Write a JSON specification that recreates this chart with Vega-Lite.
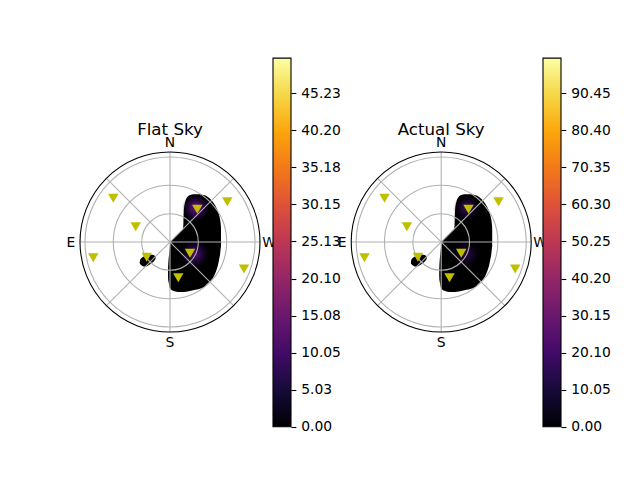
{
  "$schema": "https://vega.github.io/schema/vega-lite/v6.json",
  "padding": 0,
  "spacing": 2,
  "bounds": "flush",
  "background": "white",
  "config": {"view": {"stroke": null}, "font": "DejaVu Sans"},
  "datasets": {
    "blob": [
      {"part": "main", "y": 47.8, "x": 23, "x2": 30},
      {"part": "main", "y": 46.8, "x": 19.5, "x2": 34.5},
      {"part": "main", "y": 44.5, "x": 17, "x2": 38.5},
      {"part": "main", "y": 40.5, "x": 15.3, "x2": 42.5},
      {"part": "main", "y": 36, "x": 14.3, "x2": 45.5},
      {"part": "main", "y": 31, "x": 13.8, "x2": 47.8},
      {"part": "main", "y": 25, "x": 13.5, "x2": 49.6},
      {"part": "main", "y": 19, "x": 13.4, "x2": 50.6},
      {"part": "main", "y": 13, "x": 13, "x2": 51},
      {"part": "main", "y": 9, "x": 9, "x2": 51},
      {"part": "main", "y": 5, "x": 5, "x2": 51},
      {"part": "main", "y": 2, "x": 2, "x2": 51},
      {"part": "main", "y": 0, "x": 0.5, "x2": 51},
      {"part": "main", "y": -4, "x": 0, "x2": 51},
      {"part": "main", "y": -8, "x": -0.5, "x2": 50.5},
      {"part": "main", "y": -13, "x": -1, "x2": 50},
      {"part": "main", "y": -18, "x": -1.5, "x2": 49},
      {"part": "main", "y": -23, "x": -1.8, "x2": 48},
      {"part": "main", "y": -28, "x": -2, "x2": 46.5},
      {"part": "main", "y": -33, "x": -2, "x2": 44.5},
      {"part": "main", "y": -38, "x": -1.8, "x2": 41.5},
      {"part": "main", "y": -42, "x": -1, "x2": 37},
      {"part": "main", "y": -45, "x": -0.5, "x2": 34},
      {"part": "main", "y": -47, "x": 0.5, "x2": 29},
      {"part": "main", "y": -48.7, "x": 3, "x2": 21},
      {"part": "main", "y": -50, "x": 8, "x2": 14},
      {"part": "small", "y": -12.8, "x": -21, "x2": -17.5},
      {"part": "small", "y": -14, "x": -25, "x2": -15},
      {"part": "small", "y": -16, "x": -28.5, "x2": -14.3},
      {"part": "small", "y": -18.5, "x": -30, "x2": -15.5},
      {"part": "small", "y": -21, "x": -30.3, "x2": -18},
      {"part": "small", "y": -23, "x": -29, "x2": -21},
      {"part": "small", "y": -24.6, "x": -26.5, "x2": -23.5}
    ],
    "glowTop": [{"x": 26, "y": 34}],
    "glowLow": [{"x": 25, "y": -12}],
    "rings": [
      {"x": 0, "y": 0, "r": 28.3},
      {"x": 0, "y": 0, "r": 56.7},
      {"x": 0, "y": 0, "r": 85}
    ],
    "edge": [{"x": 0, "y": 0, "r": 90}],
    "spokes": [
      {"x": -90, "y": 0, "x2": 90, "y2": 0},
      {"x": 0, "y": -90, "x2": 0, "y2": 90},
      {"x": -63.64, "y": -63.64, "x2": 63.64, "y2": 63.64},
      {"x": -63.64, "y": 63.64, "x2": 63.64, "y2": -63.64}
    ],
    "sats": [
      {"x": -56.7, "y": 43.7},
      {"x": -34.3, "y": 15.3},
      {"x": -76.7, "y": -15.7},
      {"x": -23.3, "y": -15.3},
      {"x": 27.3, "y": 32.7},
      {"x": 57.3, "y": 40.3},
      {"x": 20, "y": -11.3},
      {"x": 8.3, "y": -35.7},
      {"x": 74, "y": -27}
    ],
    "compass": [
      {"x": 0, "y": 95, "t": "N"},
      {"x": 0, "y": -104.7, "t": "S"},
      {"x": -99, "y": -5.3, "t": "E"},
      {"x": 99, "y": -5.3, "t": "W"}
    ]
  },
  "hconcat": [
    {
      "width": 270.5,
      "height": 480,
      "encoding": {
        "x": {"field": "x", "type": "quantitative", "scale": {"domain": [-170, 100.5], "nice": false, "zero": false}, "axis": null},
        "y": {"field": "y", "type": "quantitative", "scale": {"domain": [-238, 242], "nice": false, "zero": false}, "axis": null}
      },
      "layer": [
        {
          "data": {"name": "blob"},
          "mark": {"type": "area", "orient": "horizontal", "interpolate": "monotone", "color": "black", "opacity": 1},
          "encoding": {"x2": {"field": "x2"}, "detail": {"field": "part"}}
        },
        {
          "data": {"name": "glowTop"},
          "mark": {"type": "point", "shape": "circle", "filled": true, "opacity": 1, "size": 784, "strokeWidth": 0,
            "fill": {"gradient": "radial", "x1": 0.5, "y1": 0.5, "r1": 0, "x2": 0.5, "y2": 0.5, "r2": 0.5,
              "stops": [{"offset": 0, "color": "rgba(112,26,112,1)"}, {"offset": 0.35, "color": "rgba(76,12,106,0.9)"}, {"offset": 0.7, "color": "rgba(40,10,76,0.5)"}, {"offset": 1, "color": "rgba(0,0,4,0)"}]}}
        },
        {
          "data": {"name": "glowLow"},
          "mark": {"type": "point", "shape": "circle", "filled": true, "opacity": 1, "size": 1000, "strokeWidth": 0,
            "fill": {"gradient": "radial", "x1": 0.5, "y1": 0.5, "r1": 0, "x2": 0.5, "y2": 0.5, "r2": 0.5,
              "stops": [{"offset": 0, "color": "rgba(82,14,108,0.95)"}, {"offset": 0.4, "color": "rgba(54,10,92,0.7)"}, {"offset": 0.75, "color": "rgba(24,7,50,0.3)"}, {"offset": 1, "color": "rgba(0,0,4,0)"}]}}
        },
        {
          "data": {"name": "rings"},
          "mark": {"type": "point", "shape": "circle", "filled": false, "opacity": 1, "color": "#b0b0b0", "strokeWidth": 1.1},
          "encoding": {"size": {"field": "r", "type": "quantitative", "scale": {"type": "pow", "exponent": 2, "domain": [0, 100], "range": [0, 40000]}, "legend": null}}
        },
        {
          "data": {"name": "spokes"},
          "mark": {"type": "rule", "color": "#b0b0b0", "strokeWidth": 1.1},
          "encoding": {"x2": {"field": "x2"}, "y2": {"field": "y2"}}
        },
        {
          "data": {"name": "edge"},
          "mark": {"type": "point", "shape": "circle", "filled": false, "opacity": 1, "color": "black", "strokeWidth": 1.1},
          "encoding": {"size": {"field": "r", "type": "quantitative", "scale": {"type": "pow", "exponent": 2, "domain": [0, 100], "range": [0, 40000]}, "legend": null}}
        },
        {
          "data": {"name": "sats"},
          "mark": {"type": "point", "shape": "triangle-down", "filled": true, "opacity": 1, "color": "#bfbf00", "size": 110}
        },
        {
          "data": {"name": "compass"},
          "mark": {"type": "text", "fontSize": 13.89, "align": "center", "baseline": "alphabetic", "color": "black"},
          "encoding": {"text": {"field": "t"}}
        },
        {
          "data": {"values": [{"x": 0, "y": 107, "t": "Flat Sky"}]},
          "mark": {"type": "text", "fontSize": 16.67, "align": "center", "baseline": "alphabetic", "color": "black"},
          "encoding": {"text": {"field": "t"}}
        }
      ]
    },
    {
      "width": 18,
      "height": 480,
      "data": {"values": [{"lo": 0, "hi": 50}]},
      "mark": {"type": "rect", "stroke": "black", "strokeWidth": 1.1,
        "fill": {"gradient": "linear", "x1": 0, "y1": 1, "x2": 0, "y2": 0,
          "stops": [
            {"offset": 0, "color": "#000004"}, {"offset": 0.1, "color": "#160b39"}, {"offset": 0.2, "color": "#420a68"},
            {"offset": 0.3, "color": "#6a176e"}, {"offset": 0.4, "color": "#932667"}, {"offset": 0.5, "color": "#bc3754"},
            {"offset": 0.6, "color": "#dd513a"}, {"offset": 0.7, "color": "#f37819"}, {"offset": 0.8, "color": "#fca50a"},
            {"offset": 0.9, "color": "#f6d746"}, {"offset": 1, "color": "#fcffa4"}]}},
      "encoding": {
        "x": {"datum": 0, "type": "quantitative", "scale": {"domain": [0, 1], "nice": false, "zero": false}, "axis": null},
        "x2": {"datum": 1},
        "y": {"field": "lo", "type": "quantitative", "scale": {"domain": [-7.231, 57.889], "nice": false, "zero": false},
          "axis": {"orient": "right", "values": [0, 5.0256, 10.0512, 15.0768, 20.1024, 25.128, 30.1536, 35.1792, 40.2048, 45.2304],
            "format": ".2f", "domain": false, "grid": false, "tickSize": 4.86, "tickWidth": 1.1, "tickColor": "black",
            "labelFontSize": 13.89, "labelColor": "black", "labelPadding": 4.86, "title": null,
            "labelOverlap": false, "labelFlush": false, "labelBound": false}},
        "y2": {"field": "hi"}
      }
    },
    {
      "width": 248,
      "height": 480,
      "encoding": {
        "x": {"field": "x", "type": "quantitative", "scale": {"domain": [-148.2, 99.8], "nice": false, "zero": false}, "axis": null},
        "y": {"field": "y", "type": "quantitative", "scale": {"domain": [-238, 242], "nice": false, "zero": false}, "axis": null}
      },
      "layer": [
        {
          "data": {"name": "blob"},
          "mark": {"type": "area", "orient": "horizontal", "interpolate": "monotone", "color": "black", "opacity": 1},
          "encoding": {"x2": {"field": "x2"}, "detail": {"field": "part"}}
        },
        {
          "data": {"name": "glowTop"},
          "mark": {"type": "point", "shape": "circle", "filled": true, "opacity": 1, "size": 784, "strokeWidth": 0,
            "fill": {"gradient": "radial", "x1": 0.5, "y1": 0.5, "r1": 0, "x2": 0.5, "y2": 0.5, "r2": 0.5,
              "stops": [{"offset": 0, "color": "rgba(64,12,100,1)"}, {"offset": 0.4, "color": "rgba(40,9,76,0.75)"}, {"offset": 1, "color": "rgba(0,0,4,0)"}]}}
        },
        {
          "data": {"name": "glowLow"},
          "mark": {"type": "point", "shape": "circle", "filled": true, "opacity": 1, "size": 1000, "strokeWidth": 0,
            "fill": {"gradient": "radial", "x1": 0.5, "y1": 0.5, "r1": 0, "x2": 0.5, "y2": 0.5, "r2": 0.5,
              "stops": [{"offset": 0, "color": "rgba(48,10,86,0.9)"}, {"offset": 0.45, "color": "rgba(28,8,58,0.55)"}, {"offset": 1, "color": "rgba(0,0,4,0)"}]}}
        },
        {
          "data": {"name": "rings"},
          "mark": {"type": "point", "shape": "circle", "filled": false, "opacity": 1, "color": "#b0b0b0", "strokeWidth": 1.1},
          "encoding": {"size": {"field": "r", "type": "quantitative", "scale": {"type": "pow", "exponent": 2, "domain": [0, 100], "range": [0, 40000]}, "legend": null}}
        },
        {
          "data": {"name": "spokes"},
          "mark": {"type": "rule", "color": "#b0b0b0", "strokeWidth": 1.1},
          "encoding": {"x2": {"field": "x2"}, "y2": {"field": "y2"}}
        },
        {
          "data": {"name": "edge"},
          "mark": {"type": "point", "shape": "circle", "filled": false, "opacity": 1, "color": "black", "strokeWidth": 1.1},
          "encoding": {"size": {"field": "r", "type": "quantitative", "scale": {"type": "pow", "exponent": 2, "domain": [0, 100], "range": [0, 40000]}, "legend": null}}
        },
        {
          "data": {"name": "sats"},
          "mark": {"type": "point", "shape": "triangle-down", "filled": true, "opacity": 1, "color": "#bfbf00", "size": 110}
        },
        {
          "data": {"name": "compass"},
          "mark": {"type": "text", "fontSize": 13.89, "align": "center", "baseline": "alphabetic", "color": "black"},
          "encoding": {"text": {"field": "t"}}
        },
        {
          "data": {"values": [{"x": 0, "y": 107, "t": "Actual Sky"}]},
          "mark": {"type": "text", "fontSize": 16.67, "align": "center", "baseline": "alphabetic", "color": "black"},
          "encoding": {"text": {"field": "t"}}
        }
      ]
    },
    {
      "width": 18,
      "height": 480,
      "data": {"values": [{"lo": 0, "hi": 100}]},
      "mark": {"type": "rect", "stroke": "black", "strokeWidth": 1.1,
        "fill": {"gradient": "linear", "x1": 0, "y1": 1, "x2": 0, "y2": 0,
          "stops": [
            {"offset": 0, "color": "#000004"}, {"offset": 0.1, "color": "#160b39"}, {"offset": 0.2, "color": "#420a68"},
            {"offset": 0.3, "color": "#6a176e"}, {"offset": 0.4, "color": "#932667"}, {"offset": 0.5, "color": "#bc3754"},
            {"offset": 0.6, "color": "#dd513a"}, {"offset": 0.7, "color": "#f37819"}, {"offset": 0.8, "color": "#fca50a"},
            {"offset": 0.9, "color": "#f6d746"}, {"offset": 1, "color": "#fcffa4"}]}},
      "encoding": {
        "x": {"datum": 0, "type": "quantitative", "scale": {"domain": [0, 1], "nice": false, "zero": false}, "axis": null},
        "x2": {"datum": 1},
        "y": {"field": "lo", "type": "quantitative", "scale": {"domain": [-14.46, 115.76], "nice": false, "zero": false},
          "axis": {"orient": "right", "values": [0, 10.05, 20.1, 30.15, 40.2, 50.25, 60.3, 70.35, 80.4, 90.45],
            "format": ".2f", "domain": false, "grid": false, "tickSize": 4.86, "tickWidth": 1.1, "tickColor": "black",
            "labelFontSize": 13.89, "labelColor": "black", "labelPadding": 4.86, "title": null,
            "labelOverlap": false, "labelFlush": false, "labelBound": false}},
        "y2": {"field": "hi"}
      }
    }
  ]
}
